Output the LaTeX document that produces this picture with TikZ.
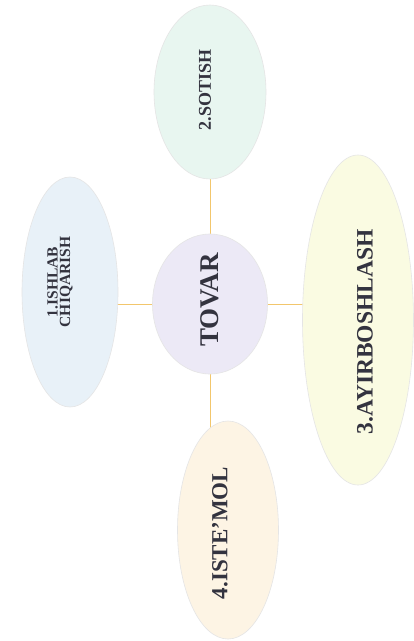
\documentclass[tikz,border=0pt]{standalone}
\usepackage{fontspec}
\setmainfont{Liberation Serif}
\usetikzlibrary{shapes.geometric,backgrounds}

\definecolor{bleuclair}{HTML}{E8F1F8}
\definecolor{menthe}{HTML}{E8F6F0}
\definecolor{lavande}{HTML}{ECE9F6}
\definecolor{jaunepale}{HTML}{FAFBE2}
\definecolor{creme}{HTML}{FDF4E4}
\definecolor{orangeclair}{HTML}{F2C66C}
\definecolor{encre}{HTML}{33333F}

\tikzset{
  bulle/.style={ellipse, draw=gray!20, line width=0.6pt, inner sep=0pt},
  etiquette/.style={text=encre, font=\bfseries, inner sep=0pt, rotate=90, align=center},
  lien/.style={draw=orangeclair, line width=0.9pt},
}

\begin{document}
\begin{tikzpicture}[x=1pt,y=-1pt]
  % Cadre
  \useasboundingbox (0,0) rectangle (414,641);

  % Les bulles
  \node[bulle, fill=menthe, minimum width=112pt, minimum height=174pt] (sotish) at (210,92) {};
  \node[bulle, fill=bleuclair, minimum width=96pt, minimum height=230pt] (ishlab) at (70,292) {};
  \node[bulle, fill=lavande, minimum width=115pt, minimum height=140pt] (tovar) at (210,304) {};
  \node[bulle, fill=jaunepale, minimum width=111pt, minimum height=330pt] (ayirbosh) at (358,320) {};
  \node[bulle, fill=creme, minimum width=101pt, minimum height=218pt] (istemol) at (228,530) {};

  % Les liens (sous les bulles)
  \begin{scope}[on background layer]
    \fill[white] (0,0) rectangle (414,641);
    \draw[lien] (tovar.center) -- (sotish.center);
    \draw[lien] (tovar.center) -- (tovar.center -| ishlab.center);
    \draw[lien] (tovar.center) -- (tovar.center -| ayirbosh.center);
    \draw[lien] (tovar.center) -- (tovar.center |- istemol.center);
  \end{scope}

  % Les textes
  \node[etiquette, font=\bfseries\fontsize{18}{20}\selectfont] (t-sotish) at (205,90) {2.SOTISH};
  \node[etiquette, font=\bfseries\fontsize{15.5}{12.5}\selectfont] (t-ishlab) at (60,282) {1.ISHLAB\\CHIQARISH};
  \node[etiquette, font=\bfseries\fontsize{27}{28}\selectfont] (t-tovar) at (210,300) {TOVAR};
  \node[etiquette, font=\bfseries\fontsize{23.5}{25}\selectfont] (t-ayirbosh) at (365,332) {3.AYIRBOSHLASH};
  \node[etiquette, font=\bfseries\fontsize{23}{25}\selectfont] (t-istemol) at (220,533) {4.ISTE'MOL};
\end{tikzpicture}
\end{document}
